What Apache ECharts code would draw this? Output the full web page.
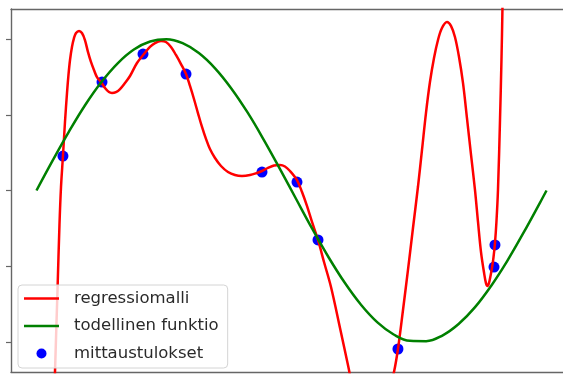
<!DOCTYPE html>
<html>
<head>
<meta charset="utf-8">
<script src="https://cdn.jsdelivr.net/npm/echarts@6/dist/echarts.min.js"></script>
<style>html,body{margin:0;padding:0;background:#fff;}#c{width:563px;height:374px;}</style>
</head>
<body>
<div id="c"></div>
<script>
// Measured points (mittaustulokset)
const pointX = [0.326, 0.807, 1.312, 1.842, 2.778, 3.209, 3.468, 4.453, 5.636, 5.648];
const pointY = [0.228, 0.717, 0.902, 0.770, 0.122, 0.056, -0.327, -1.048, -0.506, -0.360];

// True function (todellinen funktio)
const greenX = [0, 0.2, 0.4, 0.6, 0.8, 1.0, 1.2, 1.4, 1.6, 1.8, 2.0, 2.2, 2.4, 2.6, 2.8, 3.0, 3.2, 3.4, 3.6, 3.8, 4.0, 4.2, 4.4, 4.6, 4.8, 5.0, 5.2, 5.4, 5.6, 5.8, 6.0, 6.2, 6.283];
const greenY = [0, 0.199, 0.389, 0.565, 0.717, 0.841, 0.932, 0.985, 1.0, 0.974, 0.909, 0.808, 0.675, 0.516, 0.335, 0.141, -0.058, -0.256, -0.443, -0.612, -0.757, -0.872, -0.952, -0.994, -0.996, -0.959, -0.883, -0.773, -0.631, -0.465, -0.279, -0.083, 0];

// Regression model (regressiomalli)
const redX = [0.166, 0.203, 0.228, 0.259, 0.283, 0.302, 0.326, 0.351, 0.376, 0.394, 0.413, 0.437, 0.462, 0.487, 0.524, 0.560, 0.597, 0.634, 0.671, 0.708,
  0.745, 0.795, 0.844, 0.893, 0.930, 0.979, 1.029, 1.090, 1.152, 1.238, 1.324, 1.398, 1.460, 1.534, 1.595, 1.657, 1.718, 1.780, 1.842, 1.891,
  1.940, 1.989, 2.039, 2.088, 2.137, 2.199, 2.273, 2.359, 2.445, 2.531, 2.630, 2.716, 2.778, 2.852, 2.926, 2.999, 3.061, 3.123, 3.209, 3.271,
  3.332, 3.394, 3.468, 3.542, 3.628, 3.739, 3.837, 3.923, 4.010, 4.120, 4.231, 4.318, 4.404, 4.453, 4.515, 4.576, 4.638, 4.699, 4.749, 4.798,
  4.847, 4.897, 4.946, 4.995, 5.057, 5.106, 5.155, 5.205, 5.254, 5.303, 5.352, 5.402, 5.439, 5.476, 5.512, 5.537, 5.556, 5.574, 5.593, 5.611,
  5.629, 5.648, 5.666, 5.685, 5.710, 5.728, 5.740, 5.753];
const redY = [-2.443, -1.716, -1.200, -0.658, -0.228, 0.023, 0.228, 0.453, 0.645, 0.764, 0.863, 0.949, 1.008, 1.041, 1.055, 1.041, 0.995, 0.916, 0.850, 0.797,
  0.750, 0.717, 0.678, 0.651, 0.645, 0.651, 0.671, 0.711, 0.757, 0.843, 0.902, 0.949, 0.975, 0.988, 0.982, 0.949, 0.896, 0.836, 0.770, 0.691,
  0.605, 0.512, 0.420, 0.341, 0.274, 0.215, 0.162, 0.122, 0.102, 0.096, 0.102, 0.116, 0.129, 0.149, 0.165, 0.169, 0.159, 0.129, 0.069, -0.010,
  -0.102, -0.208, -0.327, -0.473, -0.638, -0.909, -1.154, -1.372, -1.517, -1.583, -1.517, -1.385, -1.200, -1.048, -0.790, -0.526, -0.248, 0.023, 0.268, 0.512,
  0.717, 0.876, 0.995, 1.074, 1.114, 1.088, 1.015, 0.883, 0.711, 0.479, 0.241, 0.003, -0.208, -0.407, -0.539, -0.612, -0.631, -0.612, -0.565, -0.512,
  -0.446, -0.347, -0.208, 0.003, 0.466, 0.863, 1.200, 1.656];

const yTicks = [-1.0, -0.5, 0.0, 0.5, 1.0];
const names = ['regressiomalli', 'todellinen funktio', 'mittaustulokset'];

const pair = (xs, ys) => xs.map((x, i) => [x, ys[i]]);
const spine = {color: '#666666', width: 1.4};

const chart = echarts.init(document.getElementById('c'), null, {renderer: 'canvas'});
chart.setOption({
  animation: false,
  backgroundColor: '#ffffff',
  grid: {left: 11, top: 9, right: 0, height: 363, show: false},
  xAxis: [
    {
      type: 'value', min: -0.314, max: 6.486, position: 'bottom',
      axisLine: {show: true, onZero: false, lineStyle: spine},
      axisTick: {show: false}, axisLabel: {show: false}, splitLine: {show: false}
    },
    {
      type: 'value', min: -0.314, max: 6.486, position: 'top',
      axisLine: {show: true, onZero: false, lineStyle: spine},
      axisTick: {show: false}, axisLabel: {show: false}, splitLine: {show: false}
    }
  ],
  yAxis: {
    type: 'value', min: -1.2, max: 1.2, position: 'left',
    axisLine: {show: true, onZero: false, lineStyle: spine},
    axisTick: {show: true, inside: false, length: 5, customValues: yTicks, lineStyle: {color: '#666666', width: 1.2}},
    axisLabel: {show: false, customValues: yTicks},
    splitLine: {show: false}
  },
  legend: {
    orient: 'vertical', left: 18, top: 285,
    backgroundColor: 'rgba(255,255,255,0.8)',
    borderColor: '#d4d4d4', borderWidth: 1, borderRadius: 4,
    padding: [5, 9, 6, 6],
    itemWidth: 35, itemHeight: 10, itemGap: 10.5,
    textStyle: {fontSize: 16.5, lineHeight: 16, color: '#2a2a2a', fontFamily: 'DejaVu Sans', padding: [0, 0, 0, 10]},
    data: [
      {name: names[0], icon: 'path://M0,0H35V2.5H0Z'},
      {name: names[1], icon: 'path://M0,0H35V2.5H0Z'},
      {name: names[2], icon: 'circle'}
    ]
  },
  series: [
    {
      name: names[2], type: 'scatter', z: 1,
      data: pair(pointX, pointY),
      symbolSize: 11,
      itemStyle: {color: '#0000ff', opacity: 1}
    },
    {
      name: names[0], type: 'line', z: 2,
      data: pair(redX, redY),
      showSymbol: false, smooth: 0.35, clip: true,
      lineStyle: {color: '#ff0000', width: 2.5},
      itemStyle: {color: '#ff0000'}
    },
    {
      name: names[1], type: 'line', z: 3,
      data: pair(greenX, greenY),
      showSymbol: false, smooth: 0.4, clip: true,
      lineStyle: {color: '#008000', width: 2.5},
      itemStyle: {color: '#008000'}
    }
  ]
});
</script>
</body>
</html>
